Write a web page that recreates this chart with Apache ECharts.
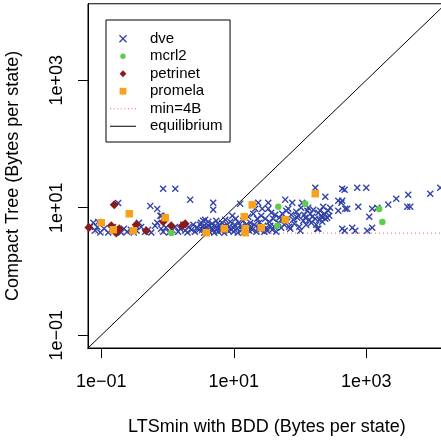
<!DOCTYPE html>
<html>
<head>
<meta charset="utf-8">
<script src="https://cdn.jsdelivr.net/npm/echarts@6/dist/echarts.min.js"></script>
<style>
html,body{margin:0;padding:0;background:#fff;}
#chart{width:441px;height:440px;}
</style>
</head>
<body>
<div id="chart"></div>
<script>
// Tick values and labels (both axes log10)
const xTickValues = [0.1, 10, 1000];
const yTickValues = [0.1, 10, 1000];
const tickLabels = ['1e\u221201', '1e+01', '1e+03'];

// dve: [LTSmin BDD bytes/state, Compact Tree bytes/state]
const dveData = [
  [0.068,5.0],[0.076,5.8],[0.081,4.4],[0.087,5.0],[0.097,4.1],[0.11,4.7],[0.128,4.1],[0.15,5.0],
  [0.175,4.4],[0.2,4.1],[0.22,4.7],[0.246,4.2],[0.28,4.5],[0.31,4.1],[0.34,4.4],[0.37,5.8],
  [0.40,5.0],[0.46,4.2],[0.51,4.5],[0.57,4.1],[0.65,5.2],[0.70,5.8],[0.78,7.5],[0.8,4.7],
  [0.86,4.2],[0.95,4.9],[1.06,4.1],[1.18,4.5],[1.3,5.0],[1.45,4.2],[1.56,4.7],[1.73,5.4],
  [1.85,4.4],[2.0,4.1],[2.1,5.0],[2.3,4.5],[2.45,5.4],[2.6,4.2],[2.8,4.9],[3.0,4.5],
  [3.2,5.8],[3.45,5.0],[3.7,6.5],[3.85,4.4],[4.15,5.2],[0.09,6.0],
  [0.86,19.9],[1.31,19.9],[2.2,13.4],[0.18,11.9],[0.55,10.7],[0.70,9.6],[0.81,7.5],
  [4.9,12.0],[4.9,9.3],[3.46,6.25],
  [3.12,5.41],[3.34,4.51],[3.58,4.05],[3.84,5.03],[4.12,6.03],[4.26,4.2],[4.57,4.85],[4.73,5.61],
  [4.9,4.51],[5.08,4.05],[5.26,5.22],[5.44,6.25],[5.64,4.68],[5.84,4.2],[6.04,5.41],[6.26,4.85],
  [6.48,4.35],[6.71,5.81],[6.94,5.03],[7.19,4.05],[7.45,6.48],[7.71,4.68],[7.98,5.41],[8.26,4.35],
  [8.56,5.03],[8.86,6.03],[9.17,4.51],[9.5,7.49],[9.83,4.85],[10,4.2],[10.35,5.41],[10.7,6.72],
  [11.1,4.68],[11.5,4.05],[11.9,5.81],[12.5,11.6],[12.97,5.03],[13.4,4.51],[13.9,6.25],[14.4,4.2],
  [15.4,5.41],[16.0,4.85],[16.5,7.22],[17.1,4.35],[17.8,5.81],[18.4,5.03],[19.0,4.51],[19.7,8.05],
  [20.4,5.41],[21.1,9.65],[21.9,4.2],[22.6,6.72],[23.4,12.0],[23.4,4.85],[24.3,5.81],[25.1,4.51],
  [26.0,7.49],[26.9,9.65],[27.9,5.22],[28.9,4.2],[29.9,6.72],[30.9,4.85],[32.0,4.35],[33.2,12.0],
  [33.2,9.65],[34.4,6.03],[35.6,5.22],[36.8,8.35],[38.1,4.51],[39.5,6.72],[40.9,5.03],[42.3,7.76],
  [43.8,4.2],[47.0,5.81],[48.6,6.97],[52.1,4.85],[54.0,8.05],[55.9,6.48],[57.8,5.41],[59.9,13.4],
  [62.0,8.97],[64.2,6.03],[66.5,9.65],[68.8,5.03],[71.3,4.68],[73.8,7.76],[76.4,12.0],[79.1,6.48],
  [81.9,5.61],[87.8,8.65],[90.9,6.97],[94.1,7.49],[97.5,5.03],[101,4.35],[104,10.0],[108,12.0],
  [112,6.25],[116,7.76],[120,6.97],[124,5.41],[129,8.97],[133,10.0],[138,6.48],[143,8.05],
  [148,5.81],[153,7.22],[159,9.3],[170,20.6],[170,6.72],[176,5.41],[182,4.68],[189,8.35],
  [195,6.48],[202,8.97],[209,7.49],[217,6.03],[224,10.4],[232,8.05],[241,14.9],[241,6.72],
  [258,6.97],[267,8.97],[277,7.49],[286,10.0],[189,4.68],[217,6.97],
  [434,19.9],[472,19.2],[731,20.6],[1000,20.6],[378,12.9],[420,12.0],[434,12.9],[482,9.65],
  [516,9.65],[757,10.4],[1230,9.65],[1470,10.0],[1110,7.22],[2150,11.2],[2840,13.8],[4300,16.0],
  [4160,10.4],[4620,10.4],[9250,16.6],[13100,20.6],[434,4.68],[472,4.35],[615,4.85],[683,4.35],
  [1035,4.35],[1230,4.85],[378,8.97]
];
const mcrl2Data = [[1.14,4.0],[45.4,5.22],[47.0,10.4],[120,11.6],[1570,9.6],[1750,6.0]];
const petrinetData = [[0.065,4.9],[0.157,11.1],[0.142,5.22],[0.187,4.69],[0.168,4.0],[0.337,5.41],
  [0.478,4.36],[0.863,6.03],[1.14,5.22],[1.67,5.22],[1.85,5.6]];
const promelaData = [[0.1,5.82],[0.152,4.52],[0.265,8.05],[0.304,4.36],[0.925,6.97],[3.85,4.06],
  [7.19,4.69],[14.4,7.22],[19.0,11.1],[14.9,4.69],[14.9,4.06],[26.0,4.86],[59.9,6.49],[170,16.6]];
const minValue = 4;
const lineRange = [0.01, 100000];

const seriesNames = ['dve', 'mcrl2', 'petrinet', 'promela', 'min=4B', 'equilibrium'];
const colors = ['#3041a8', '#5fcd4c', '#8b1a1a', '#f7a21b', '#ee6666', '#000000'];

const xPath = 'path://M-4,-2.9L-2.9,-4L0,-1.1L2.9,-4L4,-2.9L1.1,0L4,2.9L2.9,4L0,1.1L-2.9,4L-4,2.9L-1.1,0Z';
const pad = 'M-13,-4.5M22,4.5';
const legendIcons = [
  'path://' + pad + 'M-4,-3.1L-3.1,-4L0,-0.9L3.1,-4L4,-3.1L0.9,0L4,3.1L3.1,4L0,0.9L-3.1,4L-4,3.1L-0.9,0Z',
  'path://' + pad + 'M-2.7,0A2.7,2.7 0 1 1 2.7,0A2.7,2.7 0 1 1 -2.7,0Z',
  'path://' + pad + 'M0,-3.4L3.4,0L0,3.4L-3.4,0Z',
  'path://' + pad + 'M-3.4,-3.4H3.4V3.4H-3.4Z',
  'path://' + pad + 'M-13,-0.5h1v1h-1zM-9.4,-0.5h1v1h-1zM-5.8,-0.5h1v1h-1zM-2.2,-0.5h1v1h-1zM1.4,-0.5h1v1h-1zM5,-0.5h1v1h-1zM8.6,-0.5h1v1h-1zM12,-0.5h1v1h-1z',
  'path://' + pad + 'M-13,-0.5H13V0.5H-13Z'
];

const FONT = 'Liberation Sans, Arial, Helvetica, sans-serif';

function fmtTick(v) {
  for (let i = 0; i < xTickValues.length; i++) {
    if (Math.abs(Math.log10(v) - Math.log10(xTickValues[i])) < 1e-6) return tickLabels[i];
  }
  return '';
}

const chart = echarts.init(document.getElementById('chart'), null, {renderer: 'canvas'});

const axisCommon = {
  type: 'log',
  logBase: 10,
  min: 0.0630957,
  max: 15848.93,
  nameLocation: 'middle',
  nameTextStyle: {fontFamily: FONT, fontSize: 18, color: '#000'},
  axisLine: {show: true, lineStyle: {color: '#000', width: 1}},
  splitLine: {show: false},
  minorTick: {show: false},
  axisTick: {show: true, length: 10, lineStyle: {color: '#000', width: 1}},
  axisLabel: {fontFamily: FONT, fontSize: 18, color: '#000', formatter: fmtTick}
};

const option = {
  animation: false,
  backgroundColor: '#fff',
  grid: {
    left: 88, top: 3.75, width: 357.75, height: 344.25,
    show: true, borderColor: '#000', borderWidth: 1, backgroundColor: 'transparent',
    containLabel: false, outerBoundsMode: 'none'
  },
  xAxis: Object.assign({}, axisCommon, {
    name: 'LTSmin with BDD (Bytes per state)',
    nameGap: 70,
    axisTick: Object.assign({}, axisCommon.axisTick, {customValues: xTickValues}),
    axisLabel: Object.assign({}, axisCommon.axisLabel, {customValues: xTickValues, margin: 25})
  }),
  yAxis: Object.assign({}, axisCommon, {
    name: 'Compact Tree (Bytes per state)',
    nameGap: 66,
    nameRotate: 90,
    axisTick: Object.assign({}, axisCommon.axisTick, {customValues: yTickValues}),
    axisLabel: Object.assign({}, axisCommon.axisLabel, {customValues: yTickValues, rotate: 90, margin: 22})
  }),
  legend: {
    orient: 'vertical',
    left: 106, top: 20,
    padding: [10, 7.5, 7, 4],
    itemWidth: 35, itemHeight: 9, itemGap: 0,
    borderColor: '#000', borderWidth: 1, borderRadius: 0,
    backgroundColor: '#fff',
    selectedMode: false,
    textStyle: {fontFamily: FONT, fontSize: 15, color: '#000', lineHeight: 17.5},
    data: seriesNames.map((n, i) => ({name: n, icon: legendIcons[i], itemStyle: {color: colors[i], borderWidth: 0}}))
  },
  series: [
    {name: 'min=4B', type: 'line', data: [[lineRange[0], minValue], [lineRange[1], minValue]],
     symbol: 'none', clip: true, silent: true,
     lineStyle: {color: colors[4], width: 1, type: [1, 3]}, color: colors[4], z: 1},
    {name: 'equilibrium', type: 'line', data: [[lineRange[0], lineRange[0]], [lineRange[1], lineRange[1]]],
     symbol: 'none', clip: true, silent: true,
     lineStyle: {color: colors[5], width: 1}, color: colors[5], z: 1},
    {name: 'dve', type: 'scatter', data: dveData, symbol: xPath, symbolSize: 7,
     itemStyle: {color: colors[0], opacity: 1}, z: 2},
    {name: 'mcrl2', type: 'scatter', data: mcrl2Data, symbol: 'circle', symbolSize: 6.5,
     itemStyle: {color: colors[1], opacity: 1}, z: 3},
    {name: 'petrinet', type: 'scatter', data: petrinetData, symbol: 'diamond', symbolSize: 9,
     itemStyle: {color: colors[2], opacity: 1}, z: 4},
    {name: 'promela', type: 'scatter', data: promelaData, symbol: 'rect', symbolSize: 7.5,
     itemStyle: {color: colors[3], opacity: 1}, z: 5}
  ]
};
chart.setOption(option);
</script>
</body>
</html>
